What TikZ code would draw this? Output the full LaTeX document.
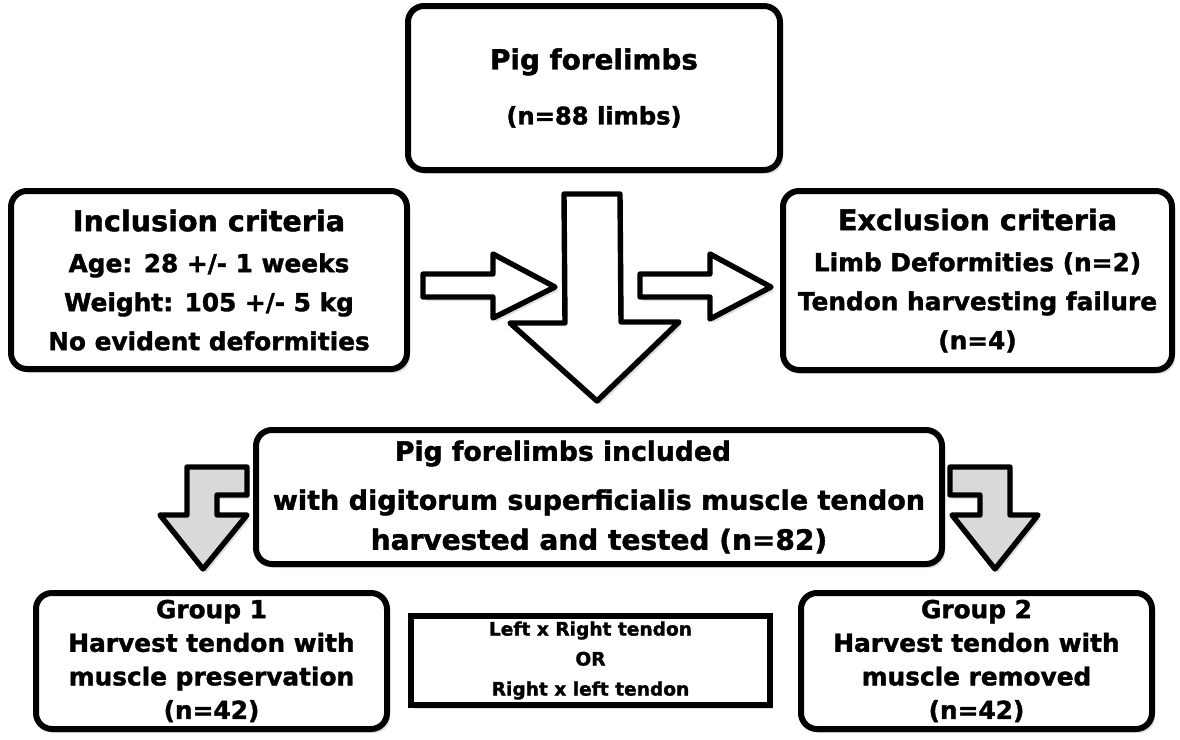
\documentclass[tikz,border=0pt]{standalone}
\usepackage{fontspec}
\setmainfont{DejaVu Sans}[BoldFeatures={FakeBold=1.5}]
\usetikzlibrary{shadows}

\newcommand{\bigtxt}[1]{{\fontsize{14.3}{19.5}\selectfont #1}}

\begin{document}
\begin{tikzpicture}[x=0.5pt,y=-0.5pt,
  box/.style={draw,line width=3pt,rounded corners=8pt,fill=white,align=center,inner sep=1pt,
    drop shadow={shadow xshift=1.5pt,shadow yshift=-2pt,opacity=0.25}},
  plainbox/.style={box,rounded corners=0pt},
  blockarrow/.style={draw,line width=2.7pt,line join=round,fill=white,
    drop shadow={shadow xshift=1.5pt,shadow yshift=-2pt,opacity=0.25}},
  grayarrow/.style={blockarrow,fill=gray!30}]

\useasboundingbox (0,0) rectangle (1180,740);

\node[box,minimum width=186pt,minimum height=82pt,font=\bfseries\fontsize{12.1}{27.5}\selectfont](top) at (594,88)
  {{\fontsize{13.9}{27.5}\selectfont Pig forelimbs}\\(n=88 limbs)};
\node[box,minimum width=198pt,minimum height=89pt,font=\bfseries\fontsize{12.4}{19.5}\selectfont](incl) at (209,280)
  {\bigtxt{Inclusion criteria}\\[1pt]Age: 28 +/- 1 weeks\\Weight: 105 +/- 5 kg\\No evident deformities};
\node[box,minimum width=194.5pt,minimum height=89.5pt,font=\bfseries\fontsize{12.4}{19.5}\selectfont](excl) at (977.5,280.5)
  {\bigtxt{Exclusion criteria}\\[1pt]Limb Deformities (n=2)\\Tendon harvesting failure\\(n=4)};
\node[box,minimum width=343pt,minimum height=67pt,font=\bfseries\fontsize{13.5}{20}\selectfont](incd) at (599,497)
  {{\fontsize{13.3}{20}\selectfont Pig forelimbs included}\hspace*{36pt}\\[4.5pt]
   with digitorum superficialis muscle tendon\\{\fontsize{14}{20}\selectfont harvested and tested (n=82)}};
\node[box,minimum width=175.5pt,minimum height=68pt,font=\bfseries\fontsize{12.4}{16.8}\selectfont](grp1) at (211.5,661)
  {Group 1\\Harvest tendon with\\muscle preservation\\(n=42)};
\node[box,minimum width=175.5pt,minimum height=68pt,font=\bfseries\fontsize{12.4}{16.8}\selectfont](grp2) at (976.5,661)
  {Group 2\\Harvest tendon with\\muscle removed\\(n=42)};
\node[plainbox,minimum width=179.5pt,minimum height=44.5pt,font=\bfseries\fontsize{9.3}{15}\selectfont](pair) at (590.5,660.5)
  {Left x Right tendon\\OR\\Right x left tendon};

% block arrows
\draw[blockarrow] (564,194) -- (620,194) -- (621,322) -- (679,322) -- (597,401) -- (510,323) -- (565,323) -- cycle;
\draw[blockarrow] (423,274) -- (493,274) -- (493,254) -- (555,287) -- (493,318) -- (493,297) -- (423,297) -- cycle;
\draw[blockarrow] (640,274) -- (710,274) -- (710,254) -- (771,287) -- (710,319) -- (710,297) -- (640,297) -- cycle;
\draw[grayarrow] (187,467) -- (247,467) -- (247,495) -- (217,495) -- (217,515) -- (247,515) -- (203,569) -- (160,515) -- (187,515) -- cycle;
\draw[grayarrow] (950,467) -- (1010,467) -- (1010,515) -- (1038,515) -- (995,569) -- (952,515) -- (980,515) -- (980,495) -- (950,495) -- cycle;

\end{tikzpicture}
\end{document}
